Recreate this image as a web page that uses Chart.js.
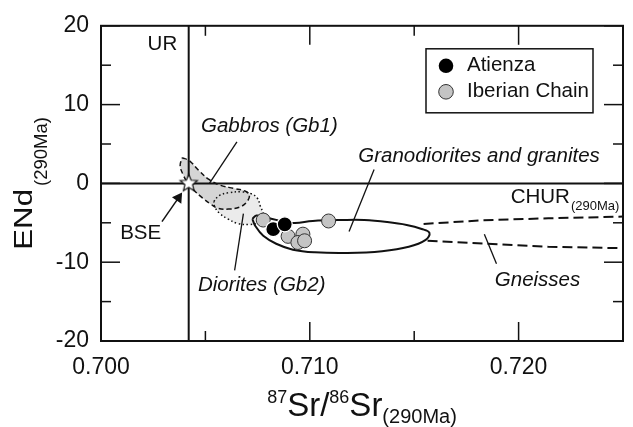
<!DOCTYPE html>
<html>
<head>
<meta charset="utf-8">
<script src="https://cdn.jsdelivr.net/npm/chart.js@4.4.1/dist/chart.umd.min.js"></script>
<style>
    html, body { margin: 0; padding: 0; background: #fff; }
</style>
</head>
<body>
<canvas id="chart" width="633" height="427"></canvas>
<script>
const FONT = '"Liberation Sans", Arial, Helvetica, sans-serif';
const INK = '#111';

// axes
const xTickValues = [0.700, 0.710, 0.720];
const xMinorTicks = [0.705, 0.715, 0.725];
const yTickValues = [-20, -10, 0, 10, 20];
const yMinorTicks = [-15, -5, 5, 15];

// samples
const atienzaSr = [0.70825, 0.70880];
const atienzaNd = [-5.81, -5.19];
const iberianSr = [0.70777, 0.70896, 0.70967, 0.70943, 0.70975, 0.71090];
const iberianNd = [-4.65, -6.72, -6.44, -7.50, -7.28, -4.77];

// reference lines
const urSr = [0.7042, 0.7042];
const urNd = [-20, 20];
const churSr = [0.700, 0.725];
const churNd = [0, 0];
const bseSr = [0.7042];
const bseNd = [0];

// fields (outline vertices)
const gb1Sr = [0.70389, 0.70422, 0.70469, 0.70517, 0.70573, 0.70635, 0.70692, 0.70711, 0.70697,
    0.70664, 0.70611, 0.70559, 0.70526, 0.70488, 0.70450, 0.70417, 0.70393, 0.70379];
const gb1Nd = [3.26, 2.89, 1.63, 0.50, -0.25, -0.63, -1.00, -1.51, -2.39,
    -3.01, -3.26, -3.14, -2.64, -1.88, -1.00, 0.00, 1.13, 2.26];
const gb2Sr = [0.70540, 0.70566, 0.70611, 0.70673, 0.70720, 0.70749, 0.70763, 0.70777,
    0.70782, 0.70758, 0.70711, 0.70654, 0.70607, 0.70568, 0.70545];
const gb2Nd = [-2.30, -1.55, -1.19, -1.07, -1.32, -1.88, -2.89, -3.77,
    -4.39, -4.96, -5.21, -5.08, -4.50, -3.80, -3.00];
const granSr = [0.70725, 0.70744, 0.70801, 0.70919, 0.71014, 0.71156, 0.71261, 0.71370, 0.71464, 0.71536,
    0.71573, 0.71555, 0.71474, 0.71346, 0.71180, 0.71024, 0.70919, 0.70839, 0.70777, 0.70739];
const granNd = [-4.52, -4.08, -4.39, -5.02, -4.77, -4.65, -4.65, -4.90, -5.27, -5.78,
    -6.28, -7.16, -8.04, -8.60, -8.83, -8.75, -8.41, -7.66, -6.65, -5.40];
const gneissUpperSr = [0.71545, 0.71829, 0.72142, 0.72500];
const gneissUpperNd = [-5.15, -4.68, -4.43, -4.21];
const gneissLowerSr = [0.71564, 0.71829, 0.72142, 0.72500];
const gneissLowerNd = [-7.28, -7.62, -8.04, -8.22];

// label leaders [x1, y1, x2, y2]
const leaders = [
    [0.70651, 5.27, 0.70520, 0.04],
    [0.71308, 1.76, 0.71188, -6.11],
    [0.70640, -11.05, 0.70682, -3.83],
    [0.71894, -10.21, 0.71836, -6.44]
];
const bseArrowSr = [0.70292, 0.70371];
const bseArrowNd = [-4.86, -1.83];

// text labels, anchored in data units
const annotations = [
    {text: 'UR', x: 0.70294, y: 17.70, align: 'center'},
    {text: 'Gabbros (Gb1)', x: 0.70479, y: 7.28, italic: true},
    {text: 'Granodiorites and granites', x: 0.71232, y: 3.39, italic: true},
    {text: 'BSE', x: 0.70190, y: -6.28, align: 'center'},
    {text: 'Diorites (Gb2)', x: 0.70464, y: -12.93, italic: true},
    {text: 'Gneisses', x: 0.71886, y: -12.30, italic: true},
    {text: 'CHUR', sub: '(290Ma)', x: 0.71962, y: -1.80}
];

const toPoints = (xs, ys) => xs.map((x, i) => ({x: x, y: ys[i]}));
const closed = (xs, ys) => {
    const p = toPoints(xs, ys);
    p.push(p[0]);
    return p;
};

function makeStar(r) {
    const c = document.createElement('canvas');
    const s = Math.ceil(r * 2 + 4);
    c.width = s;
    c.height = s;
    const g = c.getContext('2d');
    g.translate(s / 2, s / 2);
    g.beginPath();
    for (let i = 0; i < 10; i++) {
        const rr = i % 2 ? r * 0.45 : r;
        const a = -Math.PI / 2 + i * Math.PI / 5;
        g.lineTo(Math.cos(a) * rr, Math.sin(a) * rr);
    }
    g.closePath();
    g.fillStyle = '#fff';
    g.fill();
    g.lineWidth = 1.2;
    g.strokeStyle = INK;
    g.stroke();
    return c;
}

const path = (data, extra) => Object.assign({
    data: data,
    showLine: true,
    pointRadius: 0,
    pointHoverRadius: 0,
    borderColor: INK,
    borderWidth: 1.5,
    fill: false
}, extra);

const datasets = [
    {
        label: 'Atienza',
        data: toPoints(atienzaSr, atienzaNd),
        pointRadius: 7.5,
        backgroundColor: '#000',
        borderColor: '#fff',
        borderWidth: 1.3,
        order: 0
    },
    {
        label: 'Iberian Chain',
        data: toPoints(iberianSr, iberianNd),
        pointRadius: 7,
        backgroundColor: '#c4c4c4',
        borderColor: '#333',
        borderWidth: 1,
        order: 1
    },
    {
        label: 'BSE',
        data: toPoints(bseSr, bseNd),
        pointStyle: makeStar(9),
        pointRadius: 9,
        order: 2
    },
    path(toPoints(urSr, urNd), {borderWidth: 2, order: 3}),
    path(toPoints(churSr, churNd), {borderWidth: 2, order: 3}),
    path(toPoints(bseArrowSr, bseArrowNd), {
        order: 4,
        pointRadius: [0, 5],
        pointStyle: 'triangle',
        rotation: 34,
        pointBackgroundColor: INK,
        pointBorderColor: INK
    }),
    ...leaders.map(l => path([{x: l[0], y: l[1]}, {x: l[2], y: l[3]}], {borderWidth: 1.3, order: 4})),
    path(toPoints(gneissUpperSr, gneissUpperNd), {borderWidth: 2, borderDash: [10, 5], order: 5}),
    path(toPoints(gneissLowerSr, gneissLowerNd), {borderWidth: 2, borderDash: [10, 5], order: 5}),
    path(closed(granSr, granNd), {borderWidth: 2, tension: 0.4, order: 6}),
    path(closed(gb1Sr, gb1Nd), {
        borderDash: [5, 3], tension: 0.4, fill: 'shape', backgroundColor: '#d5d5d5', order: 7
    }),
    path(closed(gb2Sr, gb2Nd), {
        borderDash: [1.5, 2.5], tension: 0.4, fill: 'shape', backgroundColor: '#ebebeb', order: 8
    })
];

// frame, inward ticks, labels, legend, axis titles
const decorations = {
    id: 'decorations',
    afterDraw(chart) {
        const ctx = chart.ctx;
        const area = chart.chartArea;
        const xs = chart.scales.x;
        const ys = chart.scales.y;
        ctx.save();
        ctx.strokeStyle = INK;
        ctx.fillStyle = INK;

        // frame
        ctx.lineWidth = 2;
        ctx.strokeRect(area.left, area.top, area.right - area.left, area.bottom - area.top);

        // ticks
        const tick = (x1, y1, x2, y2) => {
            ctx.beginPath();
            ctx.moveTo(x1, y1);
            ctx.lineTo(x2, y2);
            ctx.stroke();
        };
        ctx.lineWidth = 1.5;
        const xt = xTickValues.map(v => [v, 19]).concat(xMinorTicks.map(v => [v, 10]));
        xt.forEach(([v, len]) => {
            const px = xs.getPixelForValue(v);
            tick(px, area.bottom, px, area.bottom - len);
            tick(px, area.top, px, area.top + len);
        });
        const yt = yTickValues.map(v => [v, 19]).concat(yMinorTicks.map(v => [v, 10]));
        yt.forEach(([v, len]) => {
            const py = ys.getPixelForValue(v);
            tick(area.left, py, area.left + len, py);
            tick(area.right, py, area.right - len, py);
        });

        // annotations
        ctx.textBaseline = 'middle';
        annotations.forEach(a => {
            ctx.font = (a.italic ? 'italic ' : '') + '20.5px ' + FONT;
            ctx.textAlign = a.align || 'left';
            const px = xs.getPixelForValue(a.x);
            const py = ys.getPixelForValue(a.y);
            ctx.fillText(a.text, px, py);
            if (a.sub) {
                const w = ctx.measureText(a.text).width;
                ctx.font = '13px ' + FONT;
                ctx.textBaseline = 'alphabetic';
                ctx.fillText(a.sub, px + w + 1, py + 12);
                ctx.textBaseline = 'middle';
            }
        });

        // legend
        const lx = area.right - 197;
        const ly = area.top + 23;
        ctx.lineWidth = 1.5;
        ctx.strokeRect(lx, ly, 167, 64);
        [0, 1].forEach((i, row) => {
            const ds = chart.data.datasets[i];
            const cy = ly + 17 + row * 26;
            ctx.beginPath();
            ctx.arc(lx + 20, cy, 7.3, 0, Math.PI * 2);
            ctx.fillStyle = ds.backgroundColor;
            ctx.fill();
            if (i === 1) {
                ctx.lineWidth = 1;
                ctx.strokeStyle = '#333';
                ctx.stroke();
            }
            ctx.fillStyle = INK;
            ctx.font = '20.5px ' + FONT;
            ctx.textAlign = 'left';
            ctx.fillText(ds.label, lx + 41, cy);
        });

        // x title: 87Sr/86Sr(290Ma)
        const parts = [
            {t: '87', size: 18, dy: -13},
            {t: 'Sr', size: 33, dy: 0},
            {t: '/', size: 33, dy: 0},
            {t: '86', size: 18, dy: -13},
            {t: 'Sr', size: 33, dy: 0},
            {t: '(290Ma)', size: 20, dy: 7}
        ];
        let total = 0;
        parts.forEach(p => {
            ctx.font = p.size + 'px ' + FONT;
            p.w = ctx.measureText(p.t).width;
            total += p.w;
        });
        let cx = (area.left + area.right) / 2 - total / 2;
        const base = area.bottom + 75;
        ctx.textBaseline = 'alphabetic';
        ctx.textAlign = 'left';
        parts.forEach(p => {
            ctx.font = p.size + 'px ' + FONT;
            ctx.fillText(p.t, cx, base + p.dy);
            cx += p.w;
        });

        // y title: ENd(290Ma), rotated
        ctx.font = '26px ' + FONT;
        const mainW = ctx.measureText('ENd').width * 1.2;
        ctx.font = '18.5px ' + FONT;
        const subW = ctx.measureText('(290Ma)').width;
        const len = mainW + 3 + subW;
        const midY = (area.top + area.bottom) / 2;
        ctx.translate(31.7, midY + len / 2);
        ctx.rotate(-Math.PI / 2);
        ctx.font = '18.5px ' + FONT;
        ctx.fillText('(290Ma)', mainW + 3, 14.8);
        ctx.scale(1.2, 1);
        ctx.font = '26px ' + FONT;
        ctx.fillText('ENd', 0, 0);
        ctx.restore();
    }
};

const chart = new Chart(document.getElementById('chart'), {
    type: 'scatter',
    data: {datasets: datasets},
    options: {
        responsive: false,
        animation: false,
        events: [],
        layout: {padding: {top: 23, right: 5, left: 0, bottom: 0}},
        plugins: {
            legend: {display: false},
            tooltip: {enabled: false},
            filler: {drawTime: 'beforeDatasetsDraw'}
        },
        scales: {
            x: {
                type: 'linear',
                min: 0.700,
                max: 0.725,
                grid: {display: false, drawTicks: false},
                border: {display: false},
                afterFit: s => { s.height = 86; },
                afterBuildTicks: s => { s.ticks = xTickValues.map(v => ({value: v})); },
                ticks: {
                    padding: 13,
                    color: INK,
                    font: {family: FONT, size: 23},
                    callback: v => Number(v).toFixed(3)
                }
            },
            y: {
                type: 'linear',
                min: -20,
                max: 20,
                grid: {display: false, drawTicks: false},
                border: {display: false},
                afterFit: s => { s.width = 101; },
                afterBuildTicks: s => { s.ticks = yTickValues.map(v => ({value: v})); },
                ticks: {
                    padding: 12,
                    color: INK,
                    font: {family: FONT, size: 23},
                    callback: v => String(v)
                }
            }
        }
    },
    plugins: [decorations]
});
</script>
</body>
</html>
